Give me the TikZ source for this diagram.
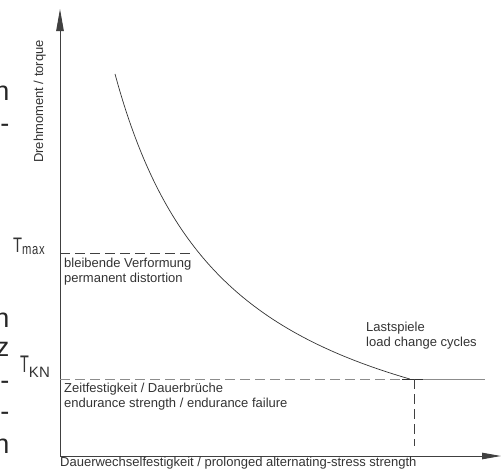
\documentclass[tikz,border=0pt]{standalone}
\usepackage{fontspec}
\setmainfont{Liberation Sans}
\usetikzlibrary{arrows.meta}
\begin{document}
\begin{tikzpicture}[x=1pt,y=-1pt,
  lbl/.style={anchor=base west, inner sep=0pt, font=\fontsize{13}{15}\selectfont, text=black!80},
  frag/.style={anchor=base east, inner sep=0pt, font=\fontsize{27}{31}\selectfont, text=black!85},
  axisline/.style={draw=black!75, line width=0.9pt},
  dsh/.style={dash pattern=on 10pt off 5pt, line width=0.8pt},
  curveline/.style={draw=black!80, line width=0.7pt}]
\useasboundingbox (0,0) rectangle (504,469);
% axes
\coordinate (O) at (60,456);
\coordinate (ytip) at (60,9);
\coordinate (xtip) at (501,456);
\draw[axisline,-{Triangle[length=22pt,width=7.5pt]}] (O) -- (ytip);
\draw[axisline,-{Triangle[length=19pt,width=6.5pt]}] (O) -- (xtip);
% curve (hyperbola)
\draw[curveline] plot[domain=115:409.8, samples=90, smooth] (\x, {498-487.68/(\x/100)});
% Tmax line
\coordinate (tmaxL) at (60,253);
\coordinate (tmaxR) at (194,253);
\draw[dsh, black!75] (tmaxL) -- (tmaxR);
% TKN line
\coordinate (tknL) at (60,379);
\coordinate (tknA) at (402,379);
\coordinate (tknB) at (423,379);
\coordinate (tknR) at (485,379);
\draw[dsh, black!45] (tknL) -- (tknA);
\draw[black!80, line width=0.9pt] (tknA) -- (tknB);
\draw[black!45, line width=0.9pt] (tknB) -- (tknR);
\coordinate (vT) at (414,379);
\coordinate (vB) at (414,446);
\draw[dsh, black!75] (vT) -- (vB);
% labels
\node[lbl, rotate=90] (ylab) at (43,163) {Drehmoment / torque};
\node[lbl] (bv1) at (64,267) {bleibende Verformung};
\node[lbl] (bv2) at (64,282) {permanent distortion};
\node[lbl] (zf1) at (64,392) {Zeitfestigkeit / Dauerbrüche};
\node[lbl] (zf2) at (64,407) {endurance strength / endurance failure};
\node[lbl] (ls1) at (366,331) {Lastspiele};
\node[lbl] (ls2) at (366,346) {load change cycles};
\node[lbl] (xlab) at (60,466) {Dauerwechselfestigkeit / prolonged alternating-stress strength};
% T labels
\node[anchor=base west, inner sep=0pt, text=black!80] (tmax) at (13,252)
  {\scalebox{0.7}[1]{\fontsize{21}{21}\selectfont T}\raisebox{-2pt}{\scalebox{0.75}[1]{\fontsize{15}{15}\selectfont\addfontfeature{LetterSpace=6}max}}};
\node[anchor=base west, inner sep=0pt, text=black!80] (tkn) at (20,372)
  {\scalebox{0.6}[1]{\fontsize{24}{24}\selectfont T}\raisebox{-5pt}{\fontsize{15}{15}\selectfont KN}};
% left edge fragments
\node[frag] (f1) at (9.5,100) {n};
\node[frag] (f2) at (9.5,132) {-};
\node[frag] (f3) at (9.5,327) {n};
\node[frag] (f4) at (9.5,356) {z};
\node[frag] (f5) at (9.5,389) {-};
\node[frag] (f6) at (9.5,420) {-};
\node[frag] (f7) at (9.5,453) {n};
\end{tikzpicture}
\end{document}
